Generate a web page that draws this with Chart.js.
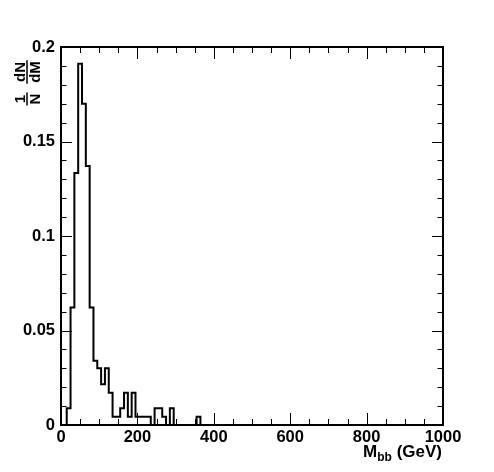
<!DOCTYPE html>
<html>
<head>
<meta charset="utf-8">
<script src="https://cdn.jsdelivr.net/npm/chart.js@4.4.1/dist/chart.umd.min.js"></script>
<style>
    html, body { margin: 0; padding: 0; background: #fff; }
    canvas { display: block; }
</style>
</head>
<body>
<canvas id="mbb-hist" width="494" height="472"></canvas>
<script>
// histogram: low edge of each 10 GeV bin and its 1/N dN/dM content
const binWidth = 10;
const binLowEdges = [5, 15, 25, 35, 45, 55, 65, 75, 85, 95, 105, 115, 125, 135, 145, 155, 165, 175, 185,
    195, 205, 215, 225, 235, 245, 255, 265, 275, 285, 295, 305, 315, 325, 335, 345, 355];
const binValues = [0, 0.0089, 0.0622, 0.1333, 0.1911, 0.170, 0.137, 0.0622, 0.034, 0.030, 0.0215, 0.030, 0.017,
    0.0044, 0.0044, 0.0089, 0.017, 0.0044, 0.017, 0.0044, 0.0044, 0.0044, 0.0044, 0, 0.0089, 0.0089, 0.0044,
    0, 0.0089, 0, 0, 0, 0, 0, 0, 0.0044];
const xTickLabels = ['0', '200', '400', '600', '800', '1000'];
const yTickLabels = ['0', '0.05', '0.1', '0.15', '0.2'];

const FONT = '"Liberation Sans", Arial, Helvetica, sans-serif';

const points = binLowEdges.map((e, i) => ({x: e, y: binValues[i]}));
points.push({x: binLowEdges[binLowEdges.length - 1] + binWidth, y: 0});

const rootFrame = {
    id: 'rootFrame',
    afterDraw(chart) {
        const {ctx, chartArea: a, scales: {x, y}} = chart;
        ctx.save();
        ctx.strokeStyle = '#000';

        // ticks inside the frame, all four sides
        ctx.lineWidth = 1;
        ctx.beginPath();
        for (let v = 0; v <= 1000; v += 50) {
            const px = Math.round(x.getPixelForValue(v)) + 0.5;
            const len = v % 200 === 0 ? 12 : 6;
            ctx.moveTo(px, a.bottom);
            ctx.lineTo(px, a.bottom - len);
            ctx.moveTo(px, a.top);
            ctx.lineTo(px, a.top + len);
        }
        for (let i = 0; i <= 20; i++) {
            const py = Math.round(y.getPixelForValue(i * 0.01)) + 0.5;
            const len = i % 5 === 0 ? 11 : 5.5;
            ctx.moveTo(a.left, py);
            ctx.lineTo(a.left + len, py);
            ctx.moveTo(a.right, py);
            ctx.lineTo(a.right - len, py);
        }
        ctx.stroke();

        ctx.lineWidth = 2;
        ctx.strokeRect(a.left, a.top, a.right - a.left, a.bottom - a.top);

        // x title: M_bb (GeV), right aligned at the axis end
        ctx.fillStyle = '#000';
        ctx.textBaseline = 'alphabetic';
        ctx.textAlign = 'left';
        const big = 'bold 17px ' + FONT, small = 'bold 12px ' + FONT;
        ctx.font = big;
        const wM = ctx.measureText('M').width;
        const wRest = ctx.measureText(' (GeV)').width;
        ctx.font = small;
        const wSub = ctx.measureText('bb').width;
        let tx = a.right - 1 - (wM + wSub + wRest);
        const base = 457;
        ctx.font = big;
        ctx.fillText('M', tx, base);
        tx += wM;
        ctx.font = small;
        ctx.fillText('bb', tx, base + 4);
        tx += wSub;
        ctx.font = big;
        ctx.fillText(' (GeV)', tx, base);

        // y title: 1/N dN/dM as two rotated fractions
        ctx.translate(27, 0);
        ctx.rotate(-Math.PI / 2);
        ctx.textAlign = 'center';
        const frac = (num, den, cy) => {
            ctx.font = 'bold 15px ' + FONT;
            const w = Math.max(ctx.measureText(num).width, ctx.measureText(den).width) + 2;
            ctx.textBaseline = 'alphabetic';
            ctx.fillText(num, -cy, -2);
            ctx.fillText(den, -cy, 12.5);
            ctx.lineWidth = 1.5;
            ctx.beginPath();
            ctx.moveTo(-cy - w / 2, 0);
            ctx.lineTo(-cy + w / 2, 0);
            ctx.stroke();
        };
        frac('1', 'N', 99);
        frac('dN', 'dM', 72);
        ctx.restore();
    }
};

new Chart(document.getElementById('mbb-hist'), {
    type: 'line',
    data: {
        datasets: [{
            data: points,
            borderColor: '#000',
            borderWidth: 2,
            pointRadius: 0,
            stepped: 'before',
            fill: false,
            borderJoinStyle: 'miter'
        }]
    },
    options: {
        responsive: false,
        animation: false,
        layout: {padding: {top: 47, right: 51, left: 0, bottom: 0}},
        plugins: {legend: {display: false}, tooltip: {enabled: false}},
        scales: {
            x: {
                type: 'linear',
                min: 0,
                max: 1000,
                grid: {display: false, drawTicks: false},
                border: {display: false},
                afterFit: s => { s.height = 47; },
                ticks: {
                    stepSize: 200,
                    autoSkip: false,
                    maxRotation: 0,
                    padding: 3,
                    color: '#000',
                    font: {family: FONT, size: 16.5, weight: 'bold'},
                    callback: (v, i) => xTickLabels[i]
                }
            },
            y: {
                min: 0,
                max: 0.2,
                grid: {display: false, drawTicks: false},
                border: {display: false},
                afterFit: s => { s.width = 61; },
                ticks: {
                    stepSize: 0.05,
                    padding: 6,
                    color: '#000',
                    font: {family: FONT, size: 16.5, weight: 'bold'},
                    callback: (v, i) => yTickLabels[i]
                }
            }
        }
    },
    plugins: [rootFrame]
});
</script>
</body>
</html>
